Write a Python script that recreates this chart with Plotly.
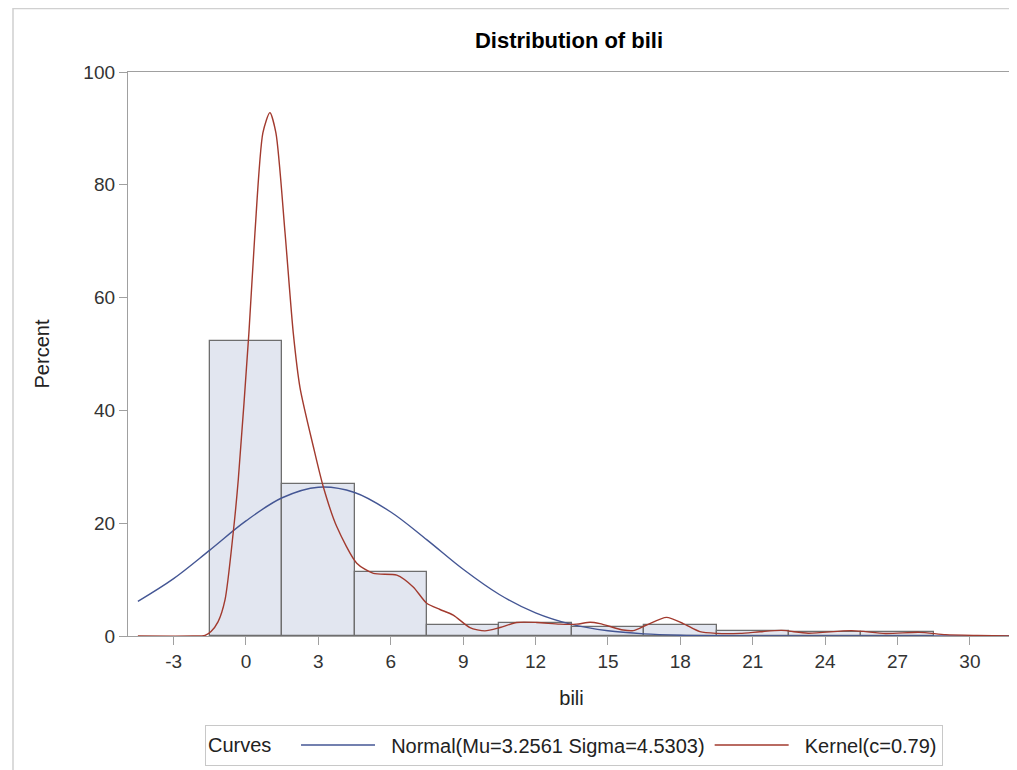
import plotly.graph_objects as go

# Histogram (bin midpoints, percent)
bin_mid = [0, 3, 6, 9, 12, 15, 18, 21, 24, 27]
bin_pct = [52.3, 26.9, 11.3, 1.95, 2.35, 1.55, 1.95, 0.85, 0.75, 0.72]

# Fitted normal curve (Mu=3.2561, Sigma=4.5303)
normal_x = [-4.48, -3, -1.5, 0, 1.5, 3, 4.5, 6, 7.5, 9, 10.5, 12, 13.5, 15, 16.5,
            18, 19.5, 21, 22.5, 24, 27, 31.7]
normal_y = [6.15, 10.18, 15.23, 20.41, 24.51, 26.38, 25.44, 21.99, 17.04, 11.83, 7.36,
            4.10, 2.05, 0.92, 0.37, 0.13, 0.04, 0.01, 0.0, 0.0, 0.0, 0.0]

# Kernel density curve
kernel_x = [-4.48, -2.2, -1.7, -1.45, -1.16, -0.87, -0.53, -0.32, 0.12, 0.37, 0.70, 0.99,
            1.24, 1.62, 1.96, 2.24, 2.79, 3.2, 3.76, 4.59, 5.28, 6.25, 6.93, 7.49,
            8.04, 8.59, 9.28, 9.9, 10.53, 11.22, 12.05, 13.0, 13.7, 14.26, 14.67,
            15.63, 16.05, 16.6, 17.43, 18.12, 18.81, 19.5, 20.47, 21.3, 22.2, 23.3,
            25.1, 26.5, 27.9, 29.0, 30.3, 31.7]
kernel_y = [0.0, 0.0, 0.1, 0.8, 2.5, 6.4, 18.3, 27.7, 53.7, 71.4, 89.2, 92.8,
            89.2, 71.4, 53.7, 44.0, 33.6, 26.5, 19.4, 12.9, 11.1, 10.8, 8.7, 5.8,
            4.7, 3.7, 1.5, 0.9, 1.5, 2.4, 2.4, 2.1, 2.1, 2.45, 2.2,
            1.06, 0.95, 1.95, 3.3, 2.2, 0.77, 0.47, 0.47, 0.75, 1.0, 0.5,
            0.95, 0.45, 0.65, 0.25, 0.1, 0.0]

x_ticks = [-3, 0, 3, 6, 9, 12, 15, 18, 21, 24, 27, 30]
y_ticks = [0, 20, 40, 60, 80, 100]

FONT = "Liberation Sans, Arial, sans-serif"
NB = "\u00a0"

fig = go.Figure()
fig.add_trace(go.Bar(
    x=bin_mid, y=bin_pct, width=3,
    marker=dict(color="#E2E6F0", line=dict(color="#6E6E6E", width=1.3)),
    showlegend=False, hoverinfo="x+y",
))
fig.add_trace(go.Scatter(
    x=normal_x, y=normal_y, mode="lines",
    line=dict(color="#445694", width=1.4, shape="spline", smoothing=1.0),
    name=NB * 2 + "Normal(Mu=3.2561 Sigma=4.5303)",
))
fig.add_trace(go.Scatter(
    x=kernel_x, y=kernel_y, mode="lines",
    line=dict(color="#A23A2E", width=1.4, shape="spline", smoothing=0.7),
    name=NB * 2 + "Kernel(c=0.79)",
))

# the page body adds an 8px offset; figure coords = screen coords - 8
L, R, T, B = 120, 10, 64, 142
W, H = 1017, 770
pw, ph = W - L - R, H - T - B

def px_x(p):
    return (p - L) / pw

def px_y(p):
    return (H - B - p) / ph

fig.update_layout(
    width=W, height=H,
    margin=dict(l=L, r=R, t=T, b=B),
    paper_bgcolor="white", plot_bgcolor="white",
    font=dict(family=FONT, size=19, color="#333333"),
    title=dict(text="<b>Distribution of bili</b>", x=px_x(561), xanchor="center",
               xref="paper", y=1 - 32 / H, yanchor="middle",
               font=dict(family=FONT, size=22, color="black")),
    bargap=0,
    showlegend=True,
    legend=dict(orientation="h", x=px_x(566), xanchor="center",
                y=px_y(737), yanchor="middle",
                title=dict(text="Curves" + NB * 3, side="left",
                           font=dict(family=FONT, size=20, color="#222222")),
                bordercolor="#C8C8C8", borderwidth=1, bgcolor="white",
                font=dict(family=FONT, size=20, color="#222222"),
                itemwidth=74, tracegroupgap=0),
    shapes=[dict(type="rect", xref="paper", yref="paper",
                 x0=px_x(5), x1=px_x(1040), y0=px_y(800), y1=px_y(0.5),
                 line=dict(color="#D0D0D0", width=1.5), layer="below")],
)
fig.update_xaxes(
    range=[-4.89, 31.87], tickvals=x_ticks, ticktext=[str(v) for v in x_ticks],
    showgrid=False, zeroline=False, showline=True, linecolor="#A0A0A0", linewidth=1.3,
    mirror=True, ticks="outside", ticklen=8, tickcolor="#A0A0A0",
    title=dict(text="bili", standoff=20, font=dict(family=FONT, size=20, color="#222222")),
    tickfont=dict(family=FONT, size=19, color="#333333"),
)
fig.update_yaxes(
    range=[0, 100], tickvals=y_ticks, ticktext=[str(v) for v in y_ticks],
    showgrid=False, zeroline=False, showline=True, linecolor="#A0A0A0", linewidth=1.3,
    mirror=True, ticks="outside", ticklen=8, tickcolor="#A0A0A0",
    title=dict(text="Percent", standoff=28, font=dict(family=FONT, size=20, color="#222222")),
    tickfont=dict(family=FONT, size=19, color="#333333"),
)

fig.write_html("out.html")
